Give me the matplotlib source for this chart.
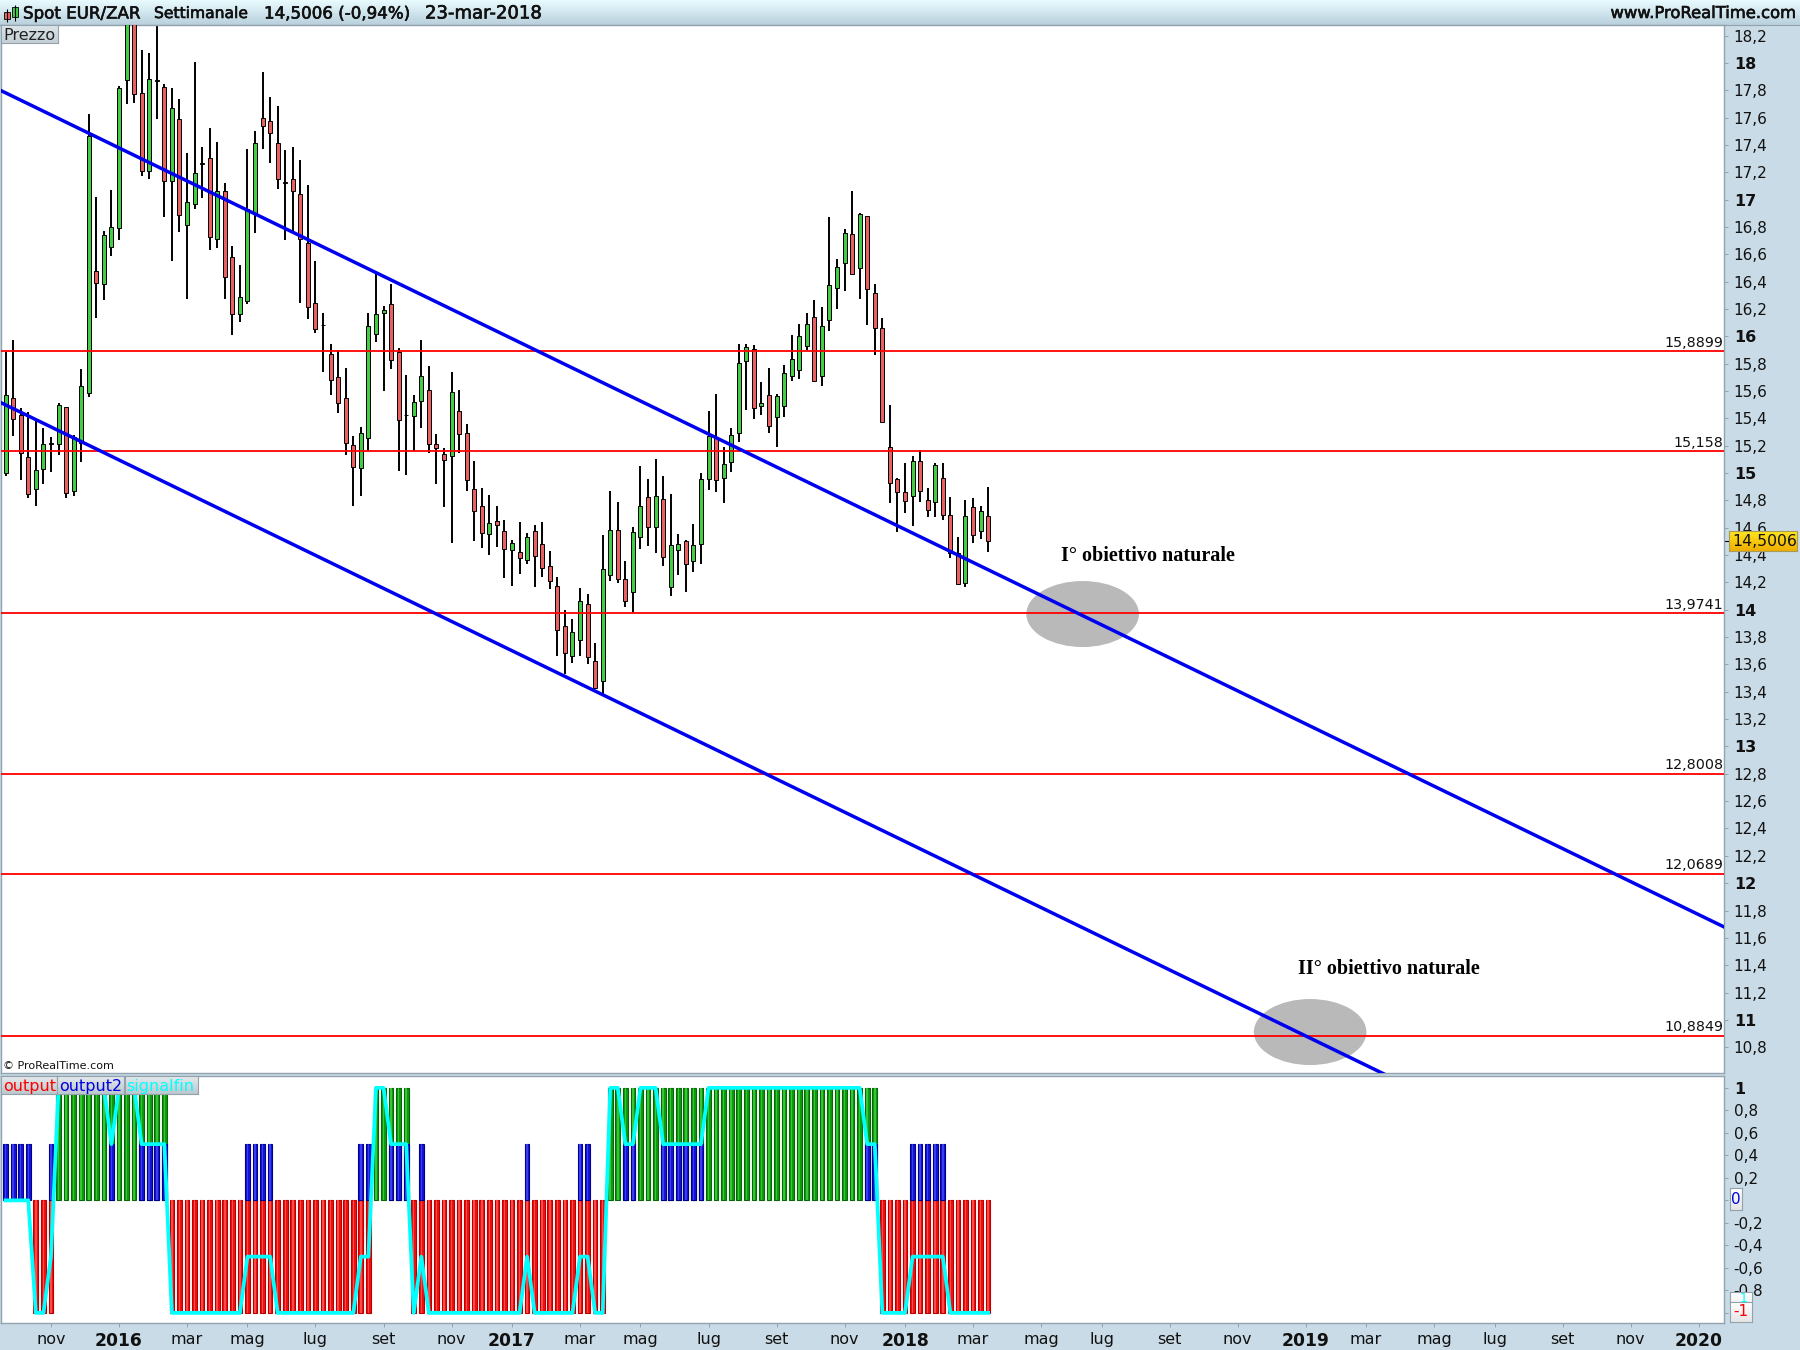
import numpy as np
import matplotlib
matplotlib.use("Agg")
import matplotlib.pyplot as plt
import matplotlib.patheffects as pe
from matplotlib.patches import Ellipse

# weekly candles, EUR/ZAR
opens = [15.003,15.547,15.422,15.115,14.881,15.027,15.213,15.21,15.481,14.866,
15.217,15.584,16.476,16.381,16.656,16.795,17.873,18.42,17.778,17.207,
17.873,17.822,17.134,17.588,16.812,16.966,17.265,17.303,16.71,17.066,
16.578,16.161,16.261,16.905,17.595,17.573,17.412,17.126,17.149,17.039,
16.68,16.242,16.087,15.868,15.7,15.547,15.203,15.035,15.254,16.015,
16.168,16.234,15.883,15.427,15.415,15.525,15.605,15.21,15.137,15.122,
15.452,15.291,14.881,14.757,14.552,14.647,14.574,14.435,14.42,14.362,
14.574,14.479,14.318,14.172,13.879,13.659,13.776,14.04,13.623,13.476,
14.252,14.581,14.223,14.128,14.53,14.823,14.603,14.808,14.164,14.435,
14.501,14.355,14.479,14.955,15.267,14.962,15.079,15.291,15.818,15.911,
15.489,15.569,15.408,15.489,15.708,15.752,15.928,16.14,15.708,16.118,
16.352,16.535,16.747,16.498,16.879,16.315,16.059,15.189,14.954,14.859,
14.83,15.086,14.801,14.786,14.962,14.691,14.413,14.194,14.75,14.574,
14.684]
closes = [15.574,15.393,15.149,14.844,15.02,15.21,15.217,15.496,14.852,15.261,
15.635,17.466,16.388,16.739,16.803,17.815,18.42,17.771,17.207,17.88,
17.869,17.134,17.668,16.885,16.98,17.193,17.261,16.724,17.066,16.432,
16.161,16.285,16.934,17.417,17.537,17.485,17.149,17.122,17.061,16.71,
16.212,16.051,16.083,15.678,15.51,15.218,15.042,15.291,16.073,16.161,
16.19,15.824,15.386,15.423,15.518,15.708,15.21,15.181,15.093,15.591,
15.283,14.947,14.72,14.559,14.632,14.618,14.442,14.486,14.376,14.53,
14.394,14.303,14.208,13.85,13.681,13.835,14.062,13.652,13.425,14.296,
14.581,14.223,14.062,14.567,14.757,14.603,14.83,14.384,14.472,14.479,
14.333,14.472,14.955,15.269,14.947,15.064,15.276,15.803,15.92,15.474,
15.511,15.342,15.562,15.73,15.832,16.001,16.089,15.671,16.074,16.374,
16.506,16.754,16.459,16.893,16.345,16.059,15.376,14.925,14.859,14.793,
15.086,14.867,14.728,15.057,14.691,14.413,14.191,14.684,14.545,14.72,
14.5006]
highs = [15.886,15.974,15.474,15.444,15.388,15.327,15.261,15.51,15.486,15.276,
15.759,17.625,17.017,16.769,17.068,17.829,18.5,18.5,18.093,18.071,
18.3,17.844,17.815,17.734,17.339,18.005,17.383,17.522,17.42,17.12,
16.659,16.52,17.368,17.5,17.932,17.749,17.683,17.361,17.383,17.288,
17.105,16.549,16.168,15.941,15.903,15.766,15.269,15.335,16.168,16.461,
16.219,16.381,15.913,15.715,15.569,15.971,15.781,15.283,15.181,15.737,
15.605,15.357,15.086,14.893,14.837,14.757,14.654,14.508,14.64,14.559,
14.623,14.64,14.428,14.238,13.996,13.93,14.157,14.113,13.754,14.545,
14.867,14.786,14.355,14.603,15.05,14.955,15.101,14.977,14.845,14.552,
14.508,14.625,14.999,15.452,15.579,15.189,15.328,15.942,15.942,15.935,
15.664,15.767,15.576,15.789,16.008,16.089,16.169,16.264,16.213,16.871,
16.564,16.784,17.062,16.901,16.879,16.381,16.132,15.496,14.962,15.071,
15.123,15.167,14.889,15.071,15.071,14.823,14.53,14.801,14.815,14.757,
14.896]
lows = [14.981,15.274,14.949,14.82,14.762,14.922,15.01,15.135,14.82,14.835,
15.083,15.559,16.137,16.269,16.59,16.707,17.702,17.71,17.176,17.154,
17.593,16.876,16.554,16.766,16.276,16.934,17.015,16.634,16.649,16.276,
16.007,16.107,16.239,16.759,17.373,17.271,17.08,16.707,16.759,16.246,
16.129,16.022,15.742,15.573,15.441,15.135,14.762,14.835,15.159,15.961,
15.602,15.763,15.018,14.988,15.164,15.332,15.144,14.922,14.754,14.491,
15.144,14.871,14.505,14.454,14.403,14.461,14.234,14.176,14.264,14.337,
14.169,14.242,14.155,13.665,13.533,13.613,13.665,13.606,13.418,13.381,
14.213,14.198,14.023,13.981,14.447,14.469,14.418,14.323,14.103,14.257,
14.133,14.279,14.337,14.874,14.859,14.784,15.006,15.23,15.464,15.398,
15.428,15.296,15.193,15.413,15.676,15.691,15.903,15.664,15.64,16.042,
16.203,16.335,16.452,16.276,16.086,15.867,15.369,14.784,14.571,14.71,
14.615,14.791,14.681,14.681,14.659,14.376,14.184,14.169,14.486,14.515,
14.42]

# horizontal levels and the two channel lines (bar index, price)
levels = [15.8899, 15.158, 13.9741, 12.8008, 12.0689, 10.8849]
level_labels = ["15,8899", "15,158", "13,9741", "12,8008", "12,0689", "10,8849"]
upper_line_x = [-0.61, 227.36]
upper_line_y = [17.798, 11.68]
lower_line_x = [-0.61, 227.36]
lower_line_y = [15.515, 9.397]

# target ellipses and their captions
target_x = [142.5, 172.6]
target_y = [13.969, 10.911]
target_names = ["I° obiettivo naturale", "II° obiettivo naturale"]

# indicator panel
output = [0]*4 + [-1]*3 + [1]*15 + [-1]*27 + [1]*5 + [-1]*26 + [1]*36 + [-1]*15
output2 = ([.5]*4 + [0]*2 + [.5] + [0]*7 + [.5] + [0]*3 + [.5]*4 + [0]*10 + [.5]*4 + [0]*11
           + [.5]*2 + [0]*2 + [.5]*3 + [0] + [.5] + [0]*13 + [.5] + [0]*6 + [.5]*2 + [0]*4
           + [.5]*2 + [0]*3 + [.5]*6 + [0]*21 + [.5]*2 + [0]*4 + [.5]*5 + [0]*6)
signalfin = ([0]*4 + [-1, -1, -.5] + [1]*7 + [.5] + [1]*3 + [.5]*4 + [-1]*10 + [-.5]*4 + [-1]*11
             + [-.5]*2 + [1]*2 + [.5]*3 + [-1] + [-.5] + [-1]*13 + [-.5] + [-1]*6 + [-.5]*2
             + [-1]*2 + [1]*2 + [.5]*2 + [1]*3 + [.5]*6 + [1]*21 + [.5]*2 + [-1]*4 + [-.5]*5 + [-1]*6)

# axis ticks
price_ticks = [18.2,18,17.8,17.6,17.4,17.2,17,16.8,16.6,16.4,16.2,16,15.8,15.6,15.4,15.2,15,14.8,14.6,14.4,
               14.2,14,13.8,13.6,13.4,13.2,13,12.8,12.6,12.4,12.2,12,11.8,11.6,11.4,11.2,11,10.8]
ind_ticks = [1, .8, .6, .4, .2, -.2, -.4, -.6, -.8]
date_ticks = [6,15,24,32,41,50,59,67,76,84,93,102,111,119,128,137,145,154,163,172,180,189,197,206,215,224]
date_labels = ["nov","2016","mar","mag","lug","set","nov","2017","mar","mag","lug","set","nov","2018","mar",
               "mag","lug","set","nov","2019","mar","mag","lug","set","nov","2020"]

W, H = 1800, 1350
PANEL = "#c9dbe6"
EDGE = "#93a3ae"
INK = "#111111"

plt.rcParams["font.family"] = "DejaVu Sans"
fig = plt.figure(figsize=(W/100, H/100), dpi=100, facecolor=PANEL)


def rect(x0, y0, x1, y1):
    return [x0/W, 1 - y1/H, (x1 - x0)/W, (y1 - y0)/H]


def grad_box(x0, y0, x1, y1, top, bottom, edge=None, z=5):
    a = fig.add_axes(rect(x0, y0, x1, y1), zorder=z)
    c0, c1 = matplotlib.colors.to_rgb(top), matplotlib.colors.to_rgb(bottom)
    g = np.linspace(0, 1, 32)[:, None, None]
    a.imshow(np.array(c0) * (1 - g) + np.array(c1) * g, aspect="auto")
    a.set_xticks([])
    a.set_yticks([])
    for s in a.spines.values():
        s.set_visible(edge is not None)
        if edge is not None:
            s.set_color(edge)
            s.set_linewidth(0.8)
    return a


def label(x, y, s, **kw):
    kw.setdefault("va", "center")
    kw.setdefault("color", INK)
    kw.setdefault("zorder", 8)
    fig.text(x/W, 1 - y/H, s, **kw)


# header strip
grad_box(0, 0, W, 25, "#e8fbff", "#b9d0dc", z=1)
fig.add_artist(plt.Line2D([0, 1], [1 - 25/H]*2, color=EDGE, lw=0.8))
heavy = [pe.withStroke(linewidth=0.45, foreground=INK)]
label(23, 13.5, "Spot EUR/ZAR", fontsize=12, path_effects=heavy)
label(154, 13.5, "Settimanale", fontsize=11.2, path_effects=heavy)
label(264, 13.5, "14,5006 (-0,94%)", fontsize=12, path_effects=heavy)
label(425, 13.5, "23-mar-2018", fontsize=13, path_effects=heavy)
label(1796, 13.5, "www.ProRealTime.com", ha="right", fontsize=11.8, path_effects=heavy)

# candle icon in the header
icon = fig.add_axes(rect(2, 4, 20, 23), zorder=6)
icon.axis("off")
icon.set_xlim(0, 18)
icon.set_ylim(19, 0)
icon.vlines([5, 13], [5, 1], [18, 17], color="black", lw=0.8)
icon.bar(5, 7, 5.5, bottom=8, color="#e86060", edgecolor="black", lw=0.6)
icon.bar(13, 10, 5.5, bottom=3, color="#44cc44", edgecolor="black", lw=0.6)

# price panel
x = np.arange(len(closes))
ax = fig.add_axes(rect(1, 25, 1724, 1072.5), facecolor="white", zorder=2)
ax.set_xlim(-0.61, 227.36)
ax.set_ylim(10.615, 18.278)

body_color = ["#44cc44" if c >= o else "#e86060" for o, c in zip(opens, closes)]
body_low = np.minimum(opens, closes)
body_h = np.abs(np.array(closes) - np.array(opens))
ax.vlines(x, lows, highs, color="black", lw=1.4, zorder=2)
ax.bar(x, body_h, bottom=body_low, width=0.53, color=body_color, edgecolor="black", lw=0.7, zorder=3)

for (tx, ty) in zip(target_x, target_y):
    ax.add_patch(Ellipse((tx, ty), 14.9, 0.483, facecolor="#b9b9b9", edgecolor="none", zorder=3.5))

for lv, name in zip(levels, level_labels):
    ax.axhline(lv, color="#ff0000", lw=1.3, zorder=4)
    ax.annotate(name, (1, lv), xycoords=("axes fraction", "data"), xytext=(-0.5, 1.2), textcoords="offset points",
                ha="right", va="bottom", fontsize=10.3, color=INK, zorder=6)
ax.plot(upper_line_x, upper_line_y, color="#0000f0", lw=2.5, zorder=5)
ax.plot(lower_line_x, lower_line_y, color="#0000f0", lw=2.5, zorder=5)

ax.set_xticks([])
ax.yaxis.tick_right()
ax.set_yticks(price_ticks)
ax.set_yticklabels([f"{t:.1f}".replace(".", ",") if round(t*10) % 10 else f"{t:.0f}" for t in price_ticks])
ax.tick_params(axis="y", length=3, width=0.7, color=EDGE, labelsize=11, pad=4, labelcolor=INK)
for t, tl in zip(price_ticks, ax.get_yticklabels()):
    if round(t*10) % 10 == 0:
        tl.set_fontweight("bold")
        tl.set_fontsize(11.5)
for s in ax.spines.values():
    s.set_color(EDGE)
    s.set_linewidth(1.0)

# dash next to the last price tag
ax.plot([1, 1.003], [closes[-1]]*2, transform=ax.get_yaxis_transform(), color="black", lw=0.8, clip_on=False)

label(1148, 555.5, target_names[0], ha="center", family="Liberation Serif", fontweight="bold", fontsize=14.5, color="black")
label(1389, 969, target_names[1], ha="center", family="Liberation Serif", fontweight="bold", fontsize=14.5, color="black")
label(3, 1066, "© ProRealTime.com", fontsize=8)

grad_box(1, 25, 58, 43, "#dde6ea", "#c4d0d6", edge=EDGE)
label(3, 35, "Prezzo", fontsize=11.5, color="#222222")

# current price tag
grad_box(1729, 531, 1797, 551, "#ffe51e", "#efae00", edge="#a89a5a", z=5)
label(1732, 541.5, "14,5006", fontsize=11.3)

# indicator panel
ax2 = fig.add_axes(rect(1, 1075.5, 1724, 1323), facecolor="white", zorder=2)
ax2.set_xlim(-0.61, 227.36)
ax2.set_ylim(-1.09, 1.11)
vals = np.array(output)
mask = vals != 0
out_color = ["#0d9c0d" if v > 0 else "#f01010" for v in vals[mask]]
out_edge = ["#0a640a" if v > 0 else "#b80000" for v in vals[mask]]
out_light = ["#35c835" if v > 0 else "#ff4a4a" for v in vals[mask]]
ax2.bar(x[mask], vals[mask], width=0.62, color=out_color, edgecolor=out_edge, lw=0.8, zorder=2)
ax2.bar(x[mask], vals[mask], width=0.2, color=out_light, zorder=2.1)
blue = np.array(output2)
mask2 = blue > 0
ax2.bar(x[mask2], blue[mask2], width=0.62, color="#1414d8", edgecolor="#00008b", lw=0.8, zorder=3)
ax2.bar(x[mask2], blue[mask2], width=0.2, color="#3c3cf0", zorder=3.1)
ax2.plot(x, signalfin, color="#00ffff", lw=2.7, zorder=4, solid_joinstyle="round")

ax2.yaxis.tick_right()
ax2.set_yticks(ind_ticks + [0, -1])
ax2.set_yticklabels([("1" if t == 1 else f"{t:.1f}".replace(".", ",")) for t in ind_ticks] + ["", ""])
ax2.tick_params(axis="y", length=3, width=0.7, color=EDGE, labelsize=11, pad=4, labelcolor=INK)
ax2.get_yticklabels()[0].set_fontweight("bold")
ax2.get_yticklabels()[0].set_fontsize(11.5)
major = ax2.yaxis.get_major_ticks()
major[-2].tick2line.set_color("#0000e0")
major[-1].tick2line.set_color("#ff0000")
ax2.set_xticks(date_ticks)
ax2.set_xticklabels(date_labels)
ax2.tick_params(axis="x", length=3, width=0.7, color=EDGE, labelsize=11.5, pad=3.5, labelcolor=INK)
for tl in ax2.get_xticklabels():
    if tl.get_text().isdigit():
        tl.set_fontweight("bold")
        tl.set_fontsize(12.3)
for s in ax2.spines.values():
    s.set_color(EDGE)
    s.set_linewidth(1.0)

# series tabs
tab_names = ["output", "output2", "signalfin"]
tab_colors = ["#ff0000", "#0000e0", "#00ffff"]
tab_edges = [1, 57.5, 124.5, 197.5]
for i in range(3):
    grad_box(tab_edges[i], 1076, tab_edges[i+1], 1094, "#e4e9ec", "#bcc8ce", edge=EDGE)
    label(tab_edges[i] + 2, 1086, tab_names[i], fontsize=11.5, color=tab_colors[i])

# boxed values on the indicator scale
grad_box(1730, 1188, 1742, 1210, "#ffffff", "#e6e6e6", edge=EDGE)
label(1736, 1199, "0", ha="center", fontsize=11, color="#0000e0")
grad_box(1730, 1292, 1752, 1303, "#ffffff", "#f2f2f2", edge=EDGE)
label(1744, 1299, "1", ha="center", fontsize=9, color="#00ffff")
grad_box(1730, 1302, 1752, 1322, "#ffffff", "#e6e6e6", edge=EDGE)
label(1741, 1312, "-1", ha="center", fontsize=11, color="#ff0000")

fig.savefig("out.png", dpi=100, facecolor=PANEL)
